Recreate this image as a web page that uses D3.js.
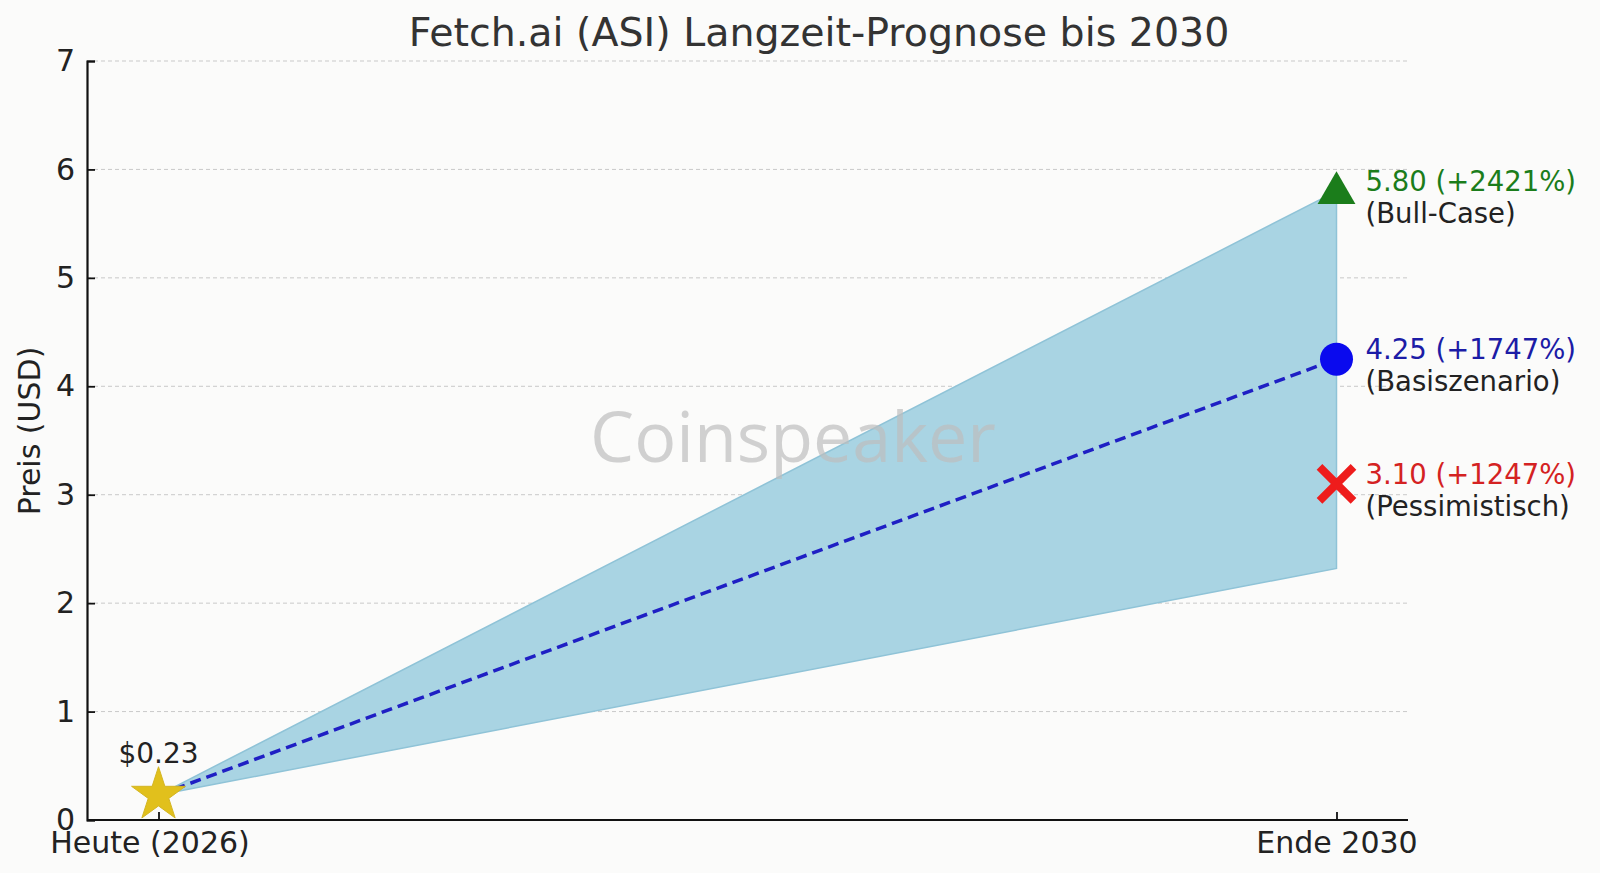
<!DOCTYPE html>
<html><head><meta charset="utf-8">
<script src="https://cdn.jsdelivr.net/npm/d3@7"></script>
<style>
html,body{margin:0;padding:0;background:#fbfbfa;}
svg{display:block;font-family:"DejaVu Sans",sans-serif;}
</style></head>
<body>
<script>
const title = "Fetch.ai (ASI) Langzeit-Prognose bis 2030";
const yLabel = "Preis (USD)";
const categories = ["Heute (2026)", "Ende 2030"];
const startPrice = 0.23;
const bandLow = [0.23, 2.32];
const bandHigh = [0.23, 5.80];
const baseLine = [0.23, 4.25];
const scenarioValues = [5.80, 4.25, 3.10];
const scenarioPct = ["+2421%", "+1747%", "+1247%"];
const scenarioNames = ["Bull-Case", "Basiszenario", "Pessimistisch"];
const scenarioColors = ["#1b7d1b", "#1c1ca6", "#d42222"];
const yTicks = [0, 1, 2, 3, 4, 5, 6, 7];

const W = 1600, H = 873;
const svg = d3.select("body").append("svg").attr("width", W).attr("height", H);
svg.append("rect").attr("width", W).attr("height", H).attr("fill", "#fbfbfa");

const mLeft = 87, mRight = 1408, mTop = 61, mBottom = 820;
const x = d3.scalePoint().domain(categories).range([mLeft, mRight]).padding(0.0607);
const y = d3.scaleLinear().domain([0, 7]).range([mBottom, mTop]);

// grid
svg.append("g").selectAll("line").data(yTicks.filter(d => d > 0)).join("line")
  .attr("x1", mLeft).attr("x2", mRight)
  .attr("y1", d => y(d)).attr("y2", d => y(d))
  .attr("stroke", "#c9c9c9").attr("stroke-width", 1).attr("stroke-dasharray", "4,3");

// band
const bandData = categories.map((c, i) => ({c, lo: bandLow[i], hi: bandHigh[i]}));
svg.append("path").datum(bandData)
  .attr("d", d3.area().x(d => x(d.c)).y0(d => y(d.lo)).y1(d => y(d.hi)))
  .attr("fill", "#a9d4e3").attr("stroke", "#8fc3d7").attr("stroke-width", 1.5);

// watermark
svg.append("text").attr("x", 793).attr("y", 462).attr("text-anchor", "middle")
  .attr("font-family", "'Open Sans',sans-serif").attr("font-size", 70)
  .attr("fill", "#bdbdbd").attr("fill-opacity", 0.7).text("Coinspeaker");

// dashed base line
svg.append("path").datum(categories.map((c, i) => ({c, v: baseLine[i]})))
  .attr("d", d3.line().x(d => x(d.c)).y(d => y(d.v)))
  .attr("fill", "none").attr("stroke", "#1f1fc4").attr("stroke-width", 3.5)
  .attr("stroke-dasharray", "11,6");

// axes
const yAxis = d3.axisLeft(y).tickValues(yTicks).tickSize(-8).tickPadding(12).tickFormat(d3.format("d"));
const gy = svg.append("g").attr("transform", `translate(${mLeft},0)`).call(yAxis);
gy.select(".domain").attr("stroke", "#111").attr("stroke-width", 2.2);
gy.selectAll(".tick line").attr("stroke", "#111").attr("stroke-width", 1.8);
gy.selectAll(".tick text").attr("font-size", 30).attr("fill", "#222").attr("font-family", "'DejaVu Sans',sans-serif");

const xAxis = d3.axisBottom(x).tickSize(-8).tickPadding(12);
const gx = svg.append("g").attr("transform", `translate(0,${mBottom})`).call(xAxis);
gx.select(".domain").attr("stroke", "#111").attr("stroke-width", 2.2).attr("d", `M${mLeft},0H${mRight}`);
gx.selectAll(".tick line").attr("stroke", "#111").attr("stroke-width", 1.8);
gx.selectAll(".tick text").attr("font-size", 30).attr("fill", "#222").attr("font-family", "'DejaVu Sans',sans-serif")
  .attr("dx", (d, i) => i === 0 ? -9 : 0);

// start star
const x0 = x(categories[0]), x1 = x(categories[1]);
svg.append("path").attr("d", d3.symbol(d3.symbolStar, 900)())
  .attr("transform", `translate(${x0},${y(startPrice)})`)
  .attr("fill", "#e1c01c").attr("stroke", "#d4b623").attr("stroke-width", 1);
svg.append("text").attr("x", x0).attr("y", y(startPrice) - 32).attr("text-anchor", "middle")
  .attr("font-size", 28).attr("fill", "#222").text("$" + startPrice.toFixed(2));

// scenario markers
svg.append("path").attr("d", d3.symbol(d3.symbolTriangle, 620)())
  .attr("transform", `translate(${x1},${y(scenarioValues[0]) + 2})`).attr("fill", scenarioColors[0]);
svg.append("circle").attr("cx", x1).attr("cy", y(scenarioValues[1])).attr("r", 16.5).attr("fill", "#0a0aee");
const xs = 17;
svg.append("path").attr("d", `M${-xs},${-xs}L${xs},${xs}M${-xs},${xs}L${xs},${-xs}`)
  .attr("transform", `translate(${x1},${y(scenarioValues[2])})`)
  .attr("stroke", "#ee1c1c").attr("stroke-width", 8).attr("fill", "none");

// scenario labels
scenarioValues.forEach((v, i) => {
  const t = svg.append("text").attr("x", x1 + 29).attr("y", y(v) + 0).attr("font-size", 27.5);
  t.append("tspan").attr("fill", scenarioColors[i]).text(`${v.toFixed(2)} (${scenarioPct[i]})`);
  t.append("tspan").attr("x", x1 + 29).attr("dy", 32).attr("fill", "#222").text(`(${scenarioNames[i]})`);
});

// title
svg.append("text").attr("x", 819).attr("y", 46).attr("text-anchor", "middle")
  .attr("font-size", 39.5).attr("fill", "#333").text(title);

// y label
svg.append("text").attr("transform", `translate(40,431) rotate(-90)`).attr("text-anchor", "middle")
  .attr("font-size", 30).attr("fill", "#222").text(yLabel);
</script>
</body></html>
